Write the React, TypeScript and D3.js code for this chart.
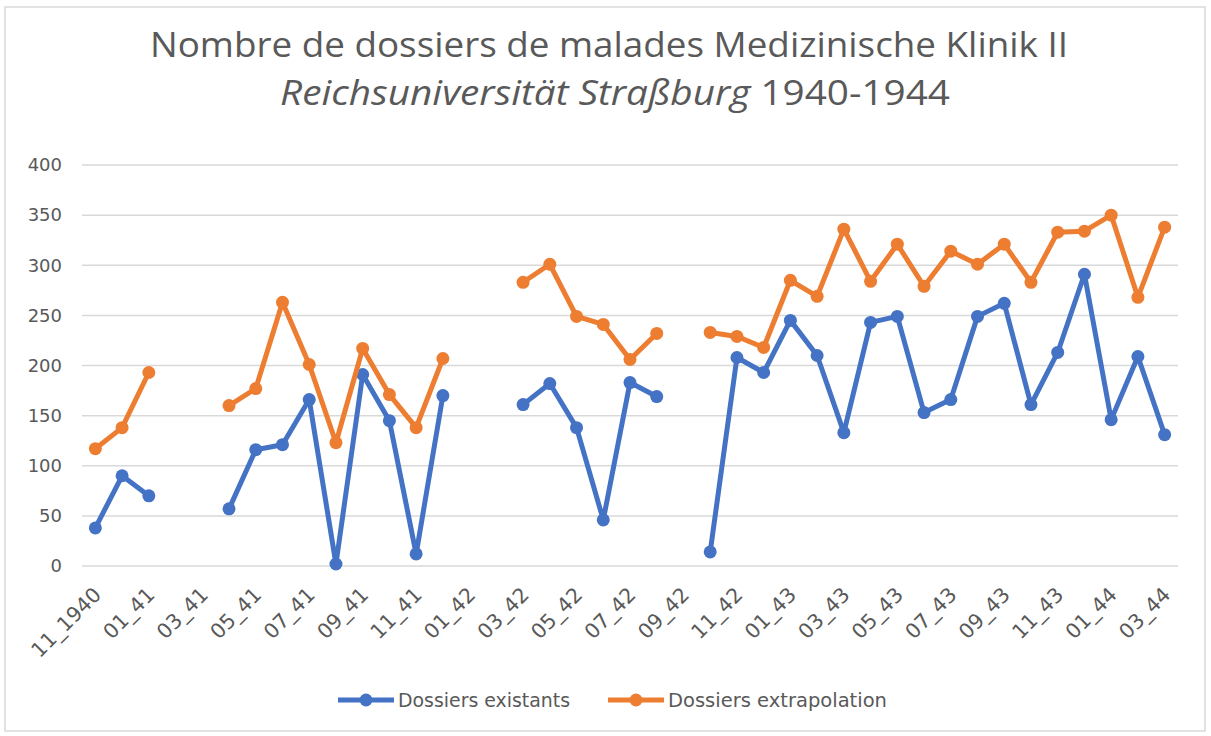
import React from "react";
import * as d3 from "d3";

const categories: string[] = [
  "11_1940", "12_40", "01_41", "02_41", "03_41", "04_41", "05_41", "06_41", "07_41", "08_41",
  "09_41", "10_41", "11_41", "12_41", "01_42", "02_42", "03_42", "04_42", "05_42", "06_42",
  "07_42", "08_42", "09_42", "10_42", "11_42", "12_42", "01_43", "02_43", "03_43", "04_43",
  "05_43", "06_43", "07_43", "08_43", "09_43", "10_43", "11_43", "12_43", "01_44", "02_44", "03_44",
];

const existants: (number | null)[] = [
  38, 90, 70, null, null, 57, 116, 121, 166, 2,
  191, 145, 12, 170, null, null, 161, 182, 138, 46,
  183, 169, null, 14, 208, 193, 245, 210, 133, 243,
  249, 153, 166, 249, 262, 161, 213, 291, 146, 209, 131,
];

const extrapolation: (number | null)[] = [
  117, 138, 193, null, null, 160, 177, 263, 201, 123,
  217, 171, 138, 207, null, null, 283, 301, 249, 241,
  206, 232, null, 233, 229, 218, 285, 269, 336, 284,
  321, 279, 314, 301, 321, 283, 333, 334, 350, 268, 338,
];

const yTicks: number[] = [0, 50, 100, 150, 200, 250, 300, 350, 400];

const seriesNames: string[] = ["Dossiers existants", "Dossiers extrapolation"];
const seriesColors: string[] = ["#4472C4", "#ED7D31"];

export default function App() {
  const W = 1211;
  const H = 736;
  const x = d3.scaleBand<string>().domain(categories).range([82, 1178]);
  const cx = (c: string) => (x(c) as number) + x.bandwidth() / 2;
  const y = d3.scaleLinear().domain([0, 400]).range([566, 165]);

  const line = d3
    .line<number | null>()
    .defined((d) => d != null)
    .x((_, i) => cx(categories[i]))
    .y((d) => y(d as number));

  const series = [existants, extrapolation];
  const textColor = "#595959";

  return (
    <svg
      width={W}
      height={H}
      style={{ position: "absolute", left: 0, top: 0, background: "#fff" }}
    >
      <rect x={0} y={0} width={W} height={H} fill="#fff" />
      <rect x={5} y={7} width={1200} height={724} fill="#fff" stroke="#d9d9d9" strokeWidth={1.5} />

      {/* Title */}
      <text
        x={609}
        y={57}
        textAnchor="middle"
        fontFamily="'Open Sans', sans-serif"
        fontSize={35}
        fill={textColor}
        textLength={918}
        lengthAdjust="spacingAndGlyphs"
      >
        Nombre de dossiers de malades Medizinische Klinik II
      </text>
      <text
        x={615}
        y={105}
        textAnchor="middle"
        fontFamily="'Open Sans', sans-serif"
        fontSize={35}
        fill={textColor}
        textLength={670}
        lengthAdjust="spacingAndGlyphs"
      >
        <tspan fontStyle="italic">Reichsuniversität Straßburg</tspan>
        <tspan> 1940-1944</tspan>
      </text>

      {/* Gridlines */}
      {yTicks.map((t) => (
        <line key={"g" + t} x1={82} x2={1178} y1={y(t)} y2={y(t)} stroke="#d9d9d9" strokeWidth={1.5} />
      ))}
      {yTicks.map((t) => (
        <text
          key={"yl" + t}
          x={62}
          y={y(t)}
          dy="0.35em"
          textAnchor="end"
          fontFamily="'DejaVu Sans', sans-serif"
          fontSize={18}
          fill={textColor}
        >
          {t}
        </text>
      ))}

      {/* X labels */}
      {categories.map((c, i) =>
        i % 2 === 0 ? (
          <text
            key={"xl" + c}
            transform={`translate(${cx(c) + 2},${591}) rotate(-45)`}
            dy="0.35em"
            textAnchor="end"
            fontFamily="'DejaVu Sans', sans-serif"
            fontSize={20.5}
            fill={textColor}
          >
            {c}
          </text>
        ) : null
      )}

      {/* Series */}
      {series.map((s, si) => (
        <g key={"s" + si}>
          <path
            d={line(s) || ""}
            fill="none"
            stroke={seriesColors[si]}
            strokeWidth={5}
            strokeLinejoin="round"
            strokeLinecap="round"
          />
          {s.map((v, i) =>
            v == null ? null : (
              <circle key={i} cx={cx(categories[i])} cy={y(v)} r={6.5} fill={seriesColors[si]} />
            )
          )}
        </g>
      ))}

      {/* Legend */}
      {[
        { x0: 338, x1: 394, tx: 398, tl: 172 },
        { x0: 608, x1: 664, tx: 668, tl: 219 },
      ].map((l, si) => (
        <g key={"lg" + si}>
          <line x1={l.x0} x2={l.x1} y1={700} y2={700} stroke={seriesColors[si]} strokeWidth={5} />
          <circle cx={(l.x0 + l.x1) / 2} cy={700} r={6.5} fill={seriesColors[si]} />
          <text
            x={l.tx}
            y={700}
            dy="0.35em"
            fontFamily="'DejaVu Sans', sans-serif"
            fontSize={20}
            fill={textColor}
            textLength={l.tl}
            lengthAdjust="spacingAndGlyphs"
          >
            {seriesNames[si]}
          </text>
        </g>
      ))}
    </svg>
  );
}
